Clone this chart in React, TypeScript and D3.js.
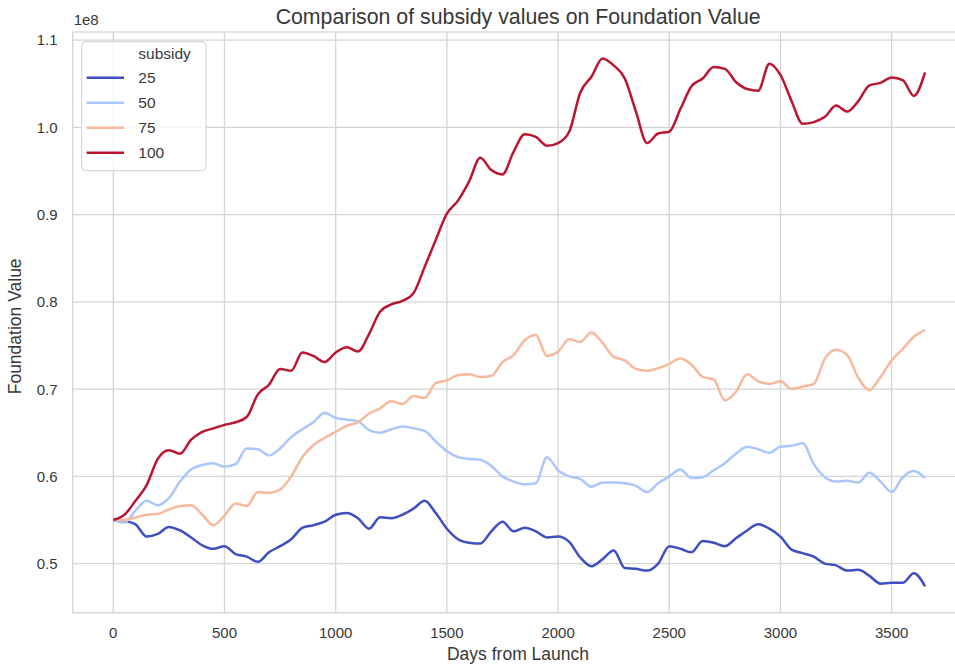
import { useEffect, useRef } from 'react';
import * as d3 from 'd3';

// days from launch, sampled every 50 days
const days = d3.range(0, 3651, 50);

// foundation value in units of 1e8, one array per subsidy level
const sub25 = [
  0.550, 0.549, 0.545, 0.531, 0.534, 0.542, 0.538, 0.530, 0.521, 0.517,
  0.520, 0.511, 0.508, 0.502, 0.513, 0.520, 0.528, 0.541, 0.544, 0.548,
  0.556, 0.558, 0.552, 0.540, 0.553, 0.552, 0.556, 0.563, 0.572, 0.558,
  0.540, 0.528, 0.524, 0.523, 0.537, 0.548, 0.537, 0.541, 0.537, 0.530,
  0.531, 0.525, 0.507, 0.497, 0.505, 0.515, 0.495, 0.494, 0.492, 0.500,
  0.520, 0.517, 0.513, 0.526, 0.524, 0.520, 0.529, 0.538, 0.545, 0.540,
  0.531, 0.516, 0.512, 0.508, 0.500, 0.498, 0.492, 0.493, 0.486, 0.477,
  0.478, 0.478, 0.489, 0.474,
];
const sub50 = [
  0.550, 0.547, 0.561, 0.572, 0.567, 0.575, 0.594, 0.608, 0.613, 0.615,
  0.611, 0.614, 0.632, 0.631, 0.624, 0.632, 0.645, 0.654, 0.662, 0.673,
  0.667, 0.665, 0.663, 0.653, 0.650, 0.654, 0.657, 0.655, 0.652, 0.640,
  0.629, 0.622, 0.620, 0.619, 0.612, 0.600, 0.594, 0.591, 0.592, 0.622,
  0.607, 0.600, 0.597, 0.588, 0.593, 0.593, 0.592, 0.589, 0.582, 0.592,
  0.600, 0.608, 0.598, 0.599, 0.607, 0.615, 0.626, 0.634, 0.631, 0.627,
  0.634, 0.635, 0.638, 0.614, 0.599, 0.594, 0.595, 0.593, 0.604, 0.594,
  0.582, 0.599, 0.606, 0.598,
];
const sub75 = [
  0.550, 0.550, 0.553, 0.556, 0.557, 0.562, 0.566, 0.567, 0.556, 0.544,
  0.555, 0.569, 0.566, 0.582, 0.581, 0.585, 0.600, 0.622, 0.636, 0.644,
  0.651, 0.658, 0.662, 0.672, 0.678, 0.686, 0.683, 0.692, 0.690, 0.707,
  0.710, 0.716, 0.717, 0.714, 0.715, 0.731, 0.739, 0.756, 0.762, 0.738,
  0.743, 0.757, 0.754, 0.765, 0.753, 0.737, 0.733, 0.723, 0.721, 0.724,
  0.729, 0.735, 0.728, 0.714, 0.711, 0.687, 0.697, 0.717, 0.709, 0.706,
  0.709, 0.700, 0.703, 0.706, 0.735, 0.745, 0.739, 0.713, 0.699, 0.714,
  0.733, 0.746, 0.760, 0.768,
];
const sub100 = [
  0.550, 0.556, 0.572, 0.590, 0.620, 0.630, 0.626, 0.642, 0.651, 0.655,
  0.659, 0.662, 0.668, 0.694, 0.705, 0.723, 0.721, 0.742, 0.738, 0.731,
  0.742, 0.748, 0.743, 0.763, 0.789, 0.797, 0.801, 0.810, 0.840, 0.871,
  0.901, 0.916, 0.938, 0.965, 0.951, 0.946, 0.972, 0.992, 0.989, 0.979,
  0.982, 0.995, 1.040, 1.058, 1.079, 1.071, 1.056, 1.018, 0.982, 0.993,
  0.995, 1.021, 1.047, 1.056, 1.069, 1.067, 1.052, 1.044, 1.042, 1.073,
  1.060, 1.030, 1.004, 1.006, 1.012, 1.025, 1.018, 1.030, 1.048, 1.051,
  1.057, 1.054, 1.036, 1.063,
];

const subsidies = ['25', '50', '75', '100'];
const seriesValues = [sub25, sub50, sub75, sub100];
const colors = ['#3d4fc2', '#aac7fd', '#f7b89c', '#bb1530'];

const xTicks = [0, 500, 1000, 1500, 2000, 2500, 3000, 3500];
const yTicks = [0.5, 0.6, 0.7, 0.8, 0.9, 1.0, 1.1];

const W = 955;
const H = 666;
const FONT = '"Liberation Sans", Arial, Helvetica, sans-serif';
const TEXT = '#383838';
const GRID = '#d4d4d4';

export default function App() {
  const svgRef = useRef<SVGSVGElement>(null);

  useEffect(() => {
    if (!svgRef.current) return;
    const svg = d3.select(svgRef.current);
    svg.selectAll('*').remove();

    const left = 72.7, right = 965.6, top = 32, bottom = 612.7;

    const allVals = seriesValues.flat();
    const [vMin, vMax] = d3.extent(allVals) as [number, number];
    const vPad = (vMax - vMin) * 0.05;
    const dPad = (d3.max(days)! - d3.min(days)!) * 0.05;

    const x = d3.scaleLinear()
      .domain([d3.min(days)! - dPad, d3.max(days)! + dPad])
      .range([left, right]);
    const y = d3.scaleLinear()
      .domain([vMin - vPad, vMax + vPad])
      .range([bottom, top]);

    // grid
    const grid = svg.append('g');
    grid.selectAll('line.gx')
      .data(xTicks)
      .join('line')
      .attr('x1', d => x(d)).attr('x2', d => x(d))
      .attr('y1', top).attr('y2', bottom)
      .attr('stroke', GRID).attr('stroke-width', 1.3);
    grid.selectAll('line.gy')
      .data(yTicks)
      .join('line')
      .attr('x1', left).attr('x2', right)
      .attr('y1', d => y(d)).attr('y2', d => y(d))
      .attr('stroke', GRID).attr('stroke-width', 1.3);

    // spines
    svg.append('rect')
      .attr('x', left).attr('y', top)
      .attr('width', right - left).attr('height', bottom - top)
      .attr('fill', 'none')
      .attr('stroke', GRID).attr('stroke-width', 1.3);

    // tick labels
    svg.append('g')
      .selectAll('text')
      .data(xTicks)
      .join('text')
      .attr('x', d => x(d))
      .attr('y', 638)
      .attr('text-anchor', 'middle')
      .style('font-family', FONT).style('font-size', '15px')
      .attr('fill', TEXT)
      .text(d => String(d));

    svg.append('g')
      .selectAll('text')
      .data(yTicks)
      .join('text')
      .attr('x', 57.5)
      .attr('y', d => y(d))
      .attr('dy', '0.36em')
      .attr('text-anchor', 'end')
      .style('font-family', FONT).style('font-size', '15px')
      .attr('fill', TEXT)
      .text(d => d.toFixed(1));

    svg.append('text')
      .attr('x', left + 1)
      .attr('y', 25)
      .style('font-family', FONT).style('font-size', '15px')
      .attr('fill', TEXT)
      .text('1e8');

    // axis labels + title
    svg.append('text')
      .attr('x', (left + right) / 2 - 1)
      .attr('y', 24)
      .attr('text-anchor', 'middle')
      .style('font-family', FONT).style('font-size', '21.3px')
      .attr('fill', TEXT)
      .text('Comparison of subsidy values on Foundation Value');

    svg.append('text')
      .attr('x', 518)
      .attr('y', 660)
      .attr('text-anchor', 'middle')
      .style('font-family', FONT).style('font-size', '17.5px')
      .attr('fill', TEXT)
      .text('Days from Launch');

    svg.append('text')
      .attr('transform', `translate(21,${(top + bottom) / 2 + 4}) rotate(-90)`)
      .attr('text-anchor', 'middle')
      .style('font-family', FONT).style('font-size', '17.5px')
      .attr('fill', TEXT)
      .text('Foundation Value');

    // lines
    const line = d3.line<number>()
      .x((_, i) => x(days[i]))
      .y(v => y(v))
      .curve(d3.curveMonotoneX);

    svg.append('g')
      .selectAll('path')
      .data(seriesValues)
      .join('path')
      .attr('fill', 'none')
      .attr('stroke', (_, i) => colors[i])
      .attr('stroke-width', 2.5)
      .attr('stroke-linejoin', 'round')
      .attr('d', d => line(d));

    // legend
    const legend = svg.append('g');
    legend.append('rect')
      .attr('x', 81.7).attr('y', 41.7)
      .attr('width', 124.3).attr('height', 129)
      .attr('rx', 4)
      .attr('fill', 'white').attr('fill-opacity', 0.8)
      .attr('stroke', '#d0d0d0').attr('stroke-width', 1);

    legend.append('text')
      .attr('x', 138.3).attr('y', 53)
      .attr('dy', '0.36em')
      .style('font-family', FONT).style('font-size', '15.5px')
      .attr('fill', TEXT)
      .text('subsidy');

    const items = legend.selectAll('g.item')
      .data(subsidies)
      .join('g')
      .attr('transform', (_, i) => `translate(0,${77.7 + i * 25})`);
    items.append('line')
      .attr('x1', 86.7).attr('x2', 124)
      .attr('stroke', (_, i) => colors[i])
      .attr('stroke-width', 2.5);
    items.append('text')
      .attr('x', 138.3)
      .attr('dy', '0.36em')
      .style('font-family', FONT).style('font-size', '15.5px')
      .attr('fill', TEXT)
      .text(d => d);
  }, []);

  return (
    <svg
      ref={svgRef}
      width={W}
      height={H}
      style={{ position: 'absolute', left: 0, top: 0, background: 'white' }}
    />
  );
}
